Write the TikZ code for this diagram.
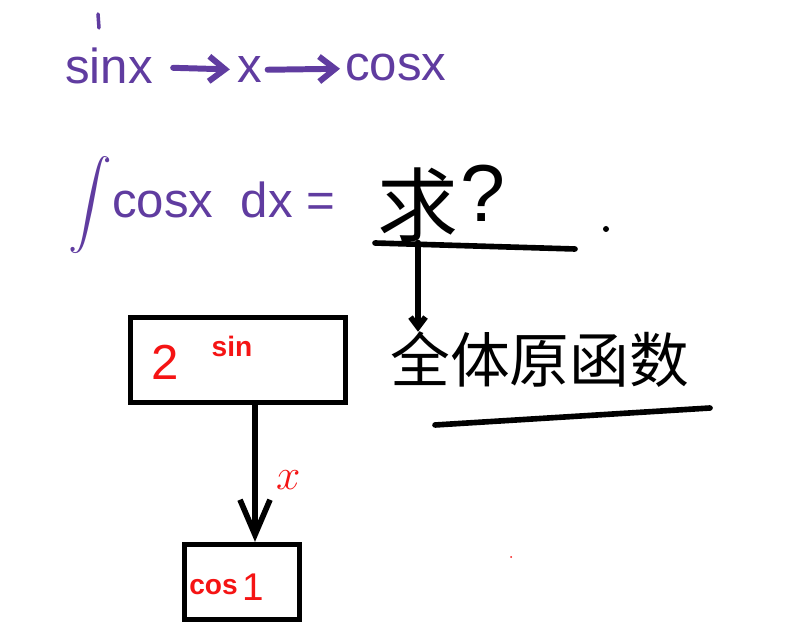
\documentclass[tikz,border=0pt]{standalone}
\usepackage{amsmath}
\usepackage{fontspec}
\setmainfont{Liberation Sans}
\newfontfamily\cjk{Noto Sans CJK SC}
\usetikzlibrary{calc,arrows.meta}
\definecolor{ink}{RGB}{96,60,160}
\definecolor{pen}{RGB}{245,20,20}
\tikzset{
  hand/.style={text=ink, font=\fontsize{28}{30}\selectfont, inner sep=0pt},
  handarrow/.style={-{Straight Barb[length=0.32cm,width=0.5cm]}, draw=ink, line width=3.4pt, line cap=round},
  stroke/.style={line width=3.2pt, line cap=round},
  redtext/.style={text=pen, font=\bfseries\fontsize{16}{18}\selectfont, inner sep=0pt},
  box/.style={draw, line width=3pt, inner sep=0pt}
}
\begin{document}
\begin{tikzpicture}[x=0.02cm,y=-0.02cm]
  \fill[white] (0,0) rectangle (790,644);
  \useasboundingbox (0,0) rectangle (790,644);
  % sinx -> x -> cosx
  \draw[ink, line width=2pt, line cap=round] (98,14) -- (99,28);
  \node[hand, anchor=west] (sinx) at (65,66) {sinx};
  \node[hand] (xx) at (250,70) {x};
  \node[hand, anchor=west] (cosx) at (345,68) {cosx};
  \draw[handarrow, shorten <=0.4cm, shorten >=0.15cm] (sinx) -- (xx);
  \draw[handarrow, shorten <=0.1cm, shorten >=0.1cm] (xx) -- (cosx);
  % integral line
  \node[hand] (intg) at (90,205) {$\displaystyle\int$};
  \node[hand, anchor=west] (intexpr) at (112,200) {cosx\ \ dx =};
  \node[font=\cjk\fontsize{46}{46}\selectfont, inner sep=0pt] (qiu) at (418,205) {求};
  \node[font=\fontsize{46}{46}\selectfont, inner sep=0pt, anchor=west] (ask) at (460,193) {?};
  \draw[stroke] (375,243) -- (575,249);
  \fill (606,229) circle (3);
  \node[font=\cjk\fontsize{34}{34}\selectfont, inner sep=0pt, anchor=west] (quan) at (390,360) {全体原函数};
  \draw[stroke] (435,425) -- (710,408);
  \draw[stroke, -{Straight Barb[length=0.2cm,width=0.3cm]}] (qiu.south) -- (qiu.south |- quan.north);
  % boxes
  \node[box, minimum width=4.3cm, minimum height=1.7cm] (sinbox) at (238,360) {};
  \node[text=pen, font=\fontsize{28}{28}\selectfont, inner sep=0pt] (two) at (165,362) {2};
  \node[redtext] (sin) at (232,346) {sin};
  \node[box, minimum width=2.3cm, minimum height=1.5cm] (cosbox) at (242,582) {};
  \node[redtext, anchor=west] (cos) at (189,587) {cos};
  \node[text=pen, font=\fontsize{22}{22}\selectfont, inner sep=0pt] (one) at (253,587) {1};
  \draw[stroke, -{Straight Barb[length=0.7cm,width=0.6cm]}] ($(sinbox.south)+(17,0)$) -- ($(cosbox.north)+(13,0)$)
    node[pos=0.55, anchor=west, xshift=0.25cm, text=pen, font=\fontsize{30}{30}\selectfont] {$x$};
  \fill[pen] (511,557) circle (1);
\end{tikzpicture}
\end{document}
